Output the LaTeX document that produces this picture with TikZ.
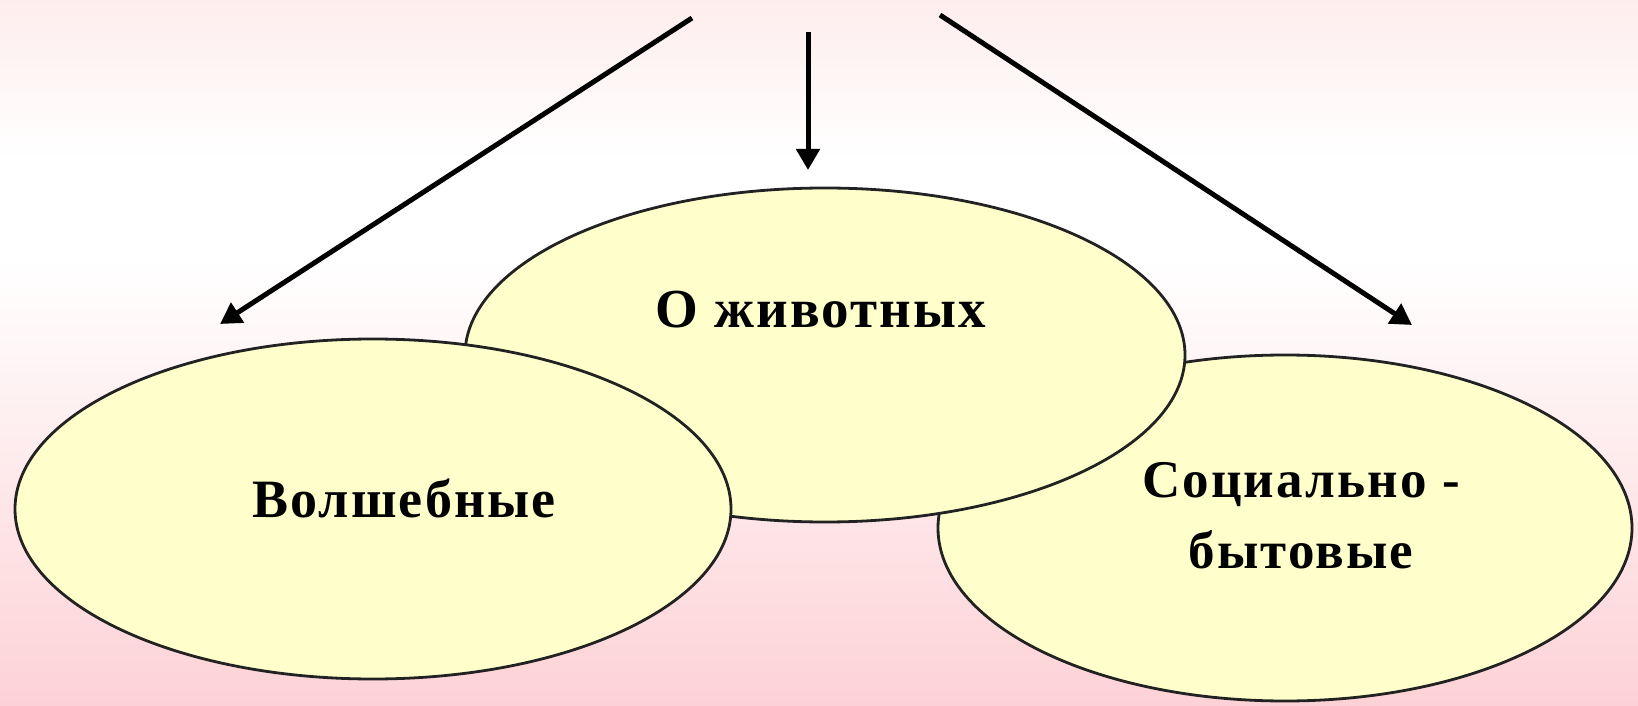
\documentclass[tikz,border=0pt]{standalone}
\usepackage{fontspec}
\setmainfont{Liberation Serif}
\newfontfamily\labelfont[LetterSpace=4]{Liberation Serif}
\usetikzlibrary{shapes.geometric,arrows.meta}

\definecolor{TopColor}{HTML}{FEEDED}
\definecolor{BottomColor}{HTML}{FDD2D6}
\definecolor{OvalColor}{HTML}{FFFFCC}
\definecolor{EdgeColor}{HTML}{222222}

\begin{document}
\begin{tikzpicture}[x=1pt,y=1pt,
    oval/.style={ellipse,draw=EdgeColor,line width=2.8pt,fill=OvalColor,inner sep=0pt},
    label text/.style={font=\labelfont\fontsize{54}{71}\selectfont\bfseries,text=black,inner sep=0pt,anchor=base,align=center},
    pointer/.style={line width=5pt,-{Triangle[length=21pt,width=23pt]}}]
  % ===== Parámetros =====
  \def\W{1638}
  \def\H{705}

  % ===== Fondo =====
  \useasboundingbox (0,0) rectangle (\W,\H);
  \shade[top color=TopColor,bottom color=white] (0,545) rectangle (\W,\H);
  \fill[white] (0,445) rectangle (\W,545);
  \shade[top color=white,bottom color=BottomColor] (0,0) rectangle (\W,445);

  % ===== Óvalos =====
  \node[oval,minimum width=694pt,minimum height=346pt] (social) at (1285,177) {};
  \node[oval,minimum width=720pt,minimum height=334pt] (animal) at (825,350) {};
  \node[oval,minimum width=716pt,minimum height=340pt] (magic)  at (373,196) {};

  % ===== Etiquetas =====
  \node[label text] (magicTxt)  at (404,188) {Волшебные};
  \node[label text,font=\labelfont\fontsize{55}{60}\selectfont\bfseries] (animalTxt) at (821,377) {О животных};
  \node[label text,font=\labelfont\fontsize{53}{71}\selectfont\bfseries] (socialTxt) at (1301,137) {Социально -\\бытовые};

  % ===== Flechas =====
  \coordinate (leftTop)   at (692,687);
  \coordinate (midTop)    at (808,673);
  \coordinate (rightTop)  at (940,690);
  \coordinate (leftEnd)   at (220,381);
  \coordinate (midEnd)    at (808,535);
  \coordinate (rightEnd)  at (1412,380);
  \draw[pointer] (leftTop)  -- (leftEnd);
  \draw[pointer] (midTop)   -- (midEnd);
  \draw[pointer] (rightTop) -- (rightEnd);
\end{tikzpicture}
\end{document}
